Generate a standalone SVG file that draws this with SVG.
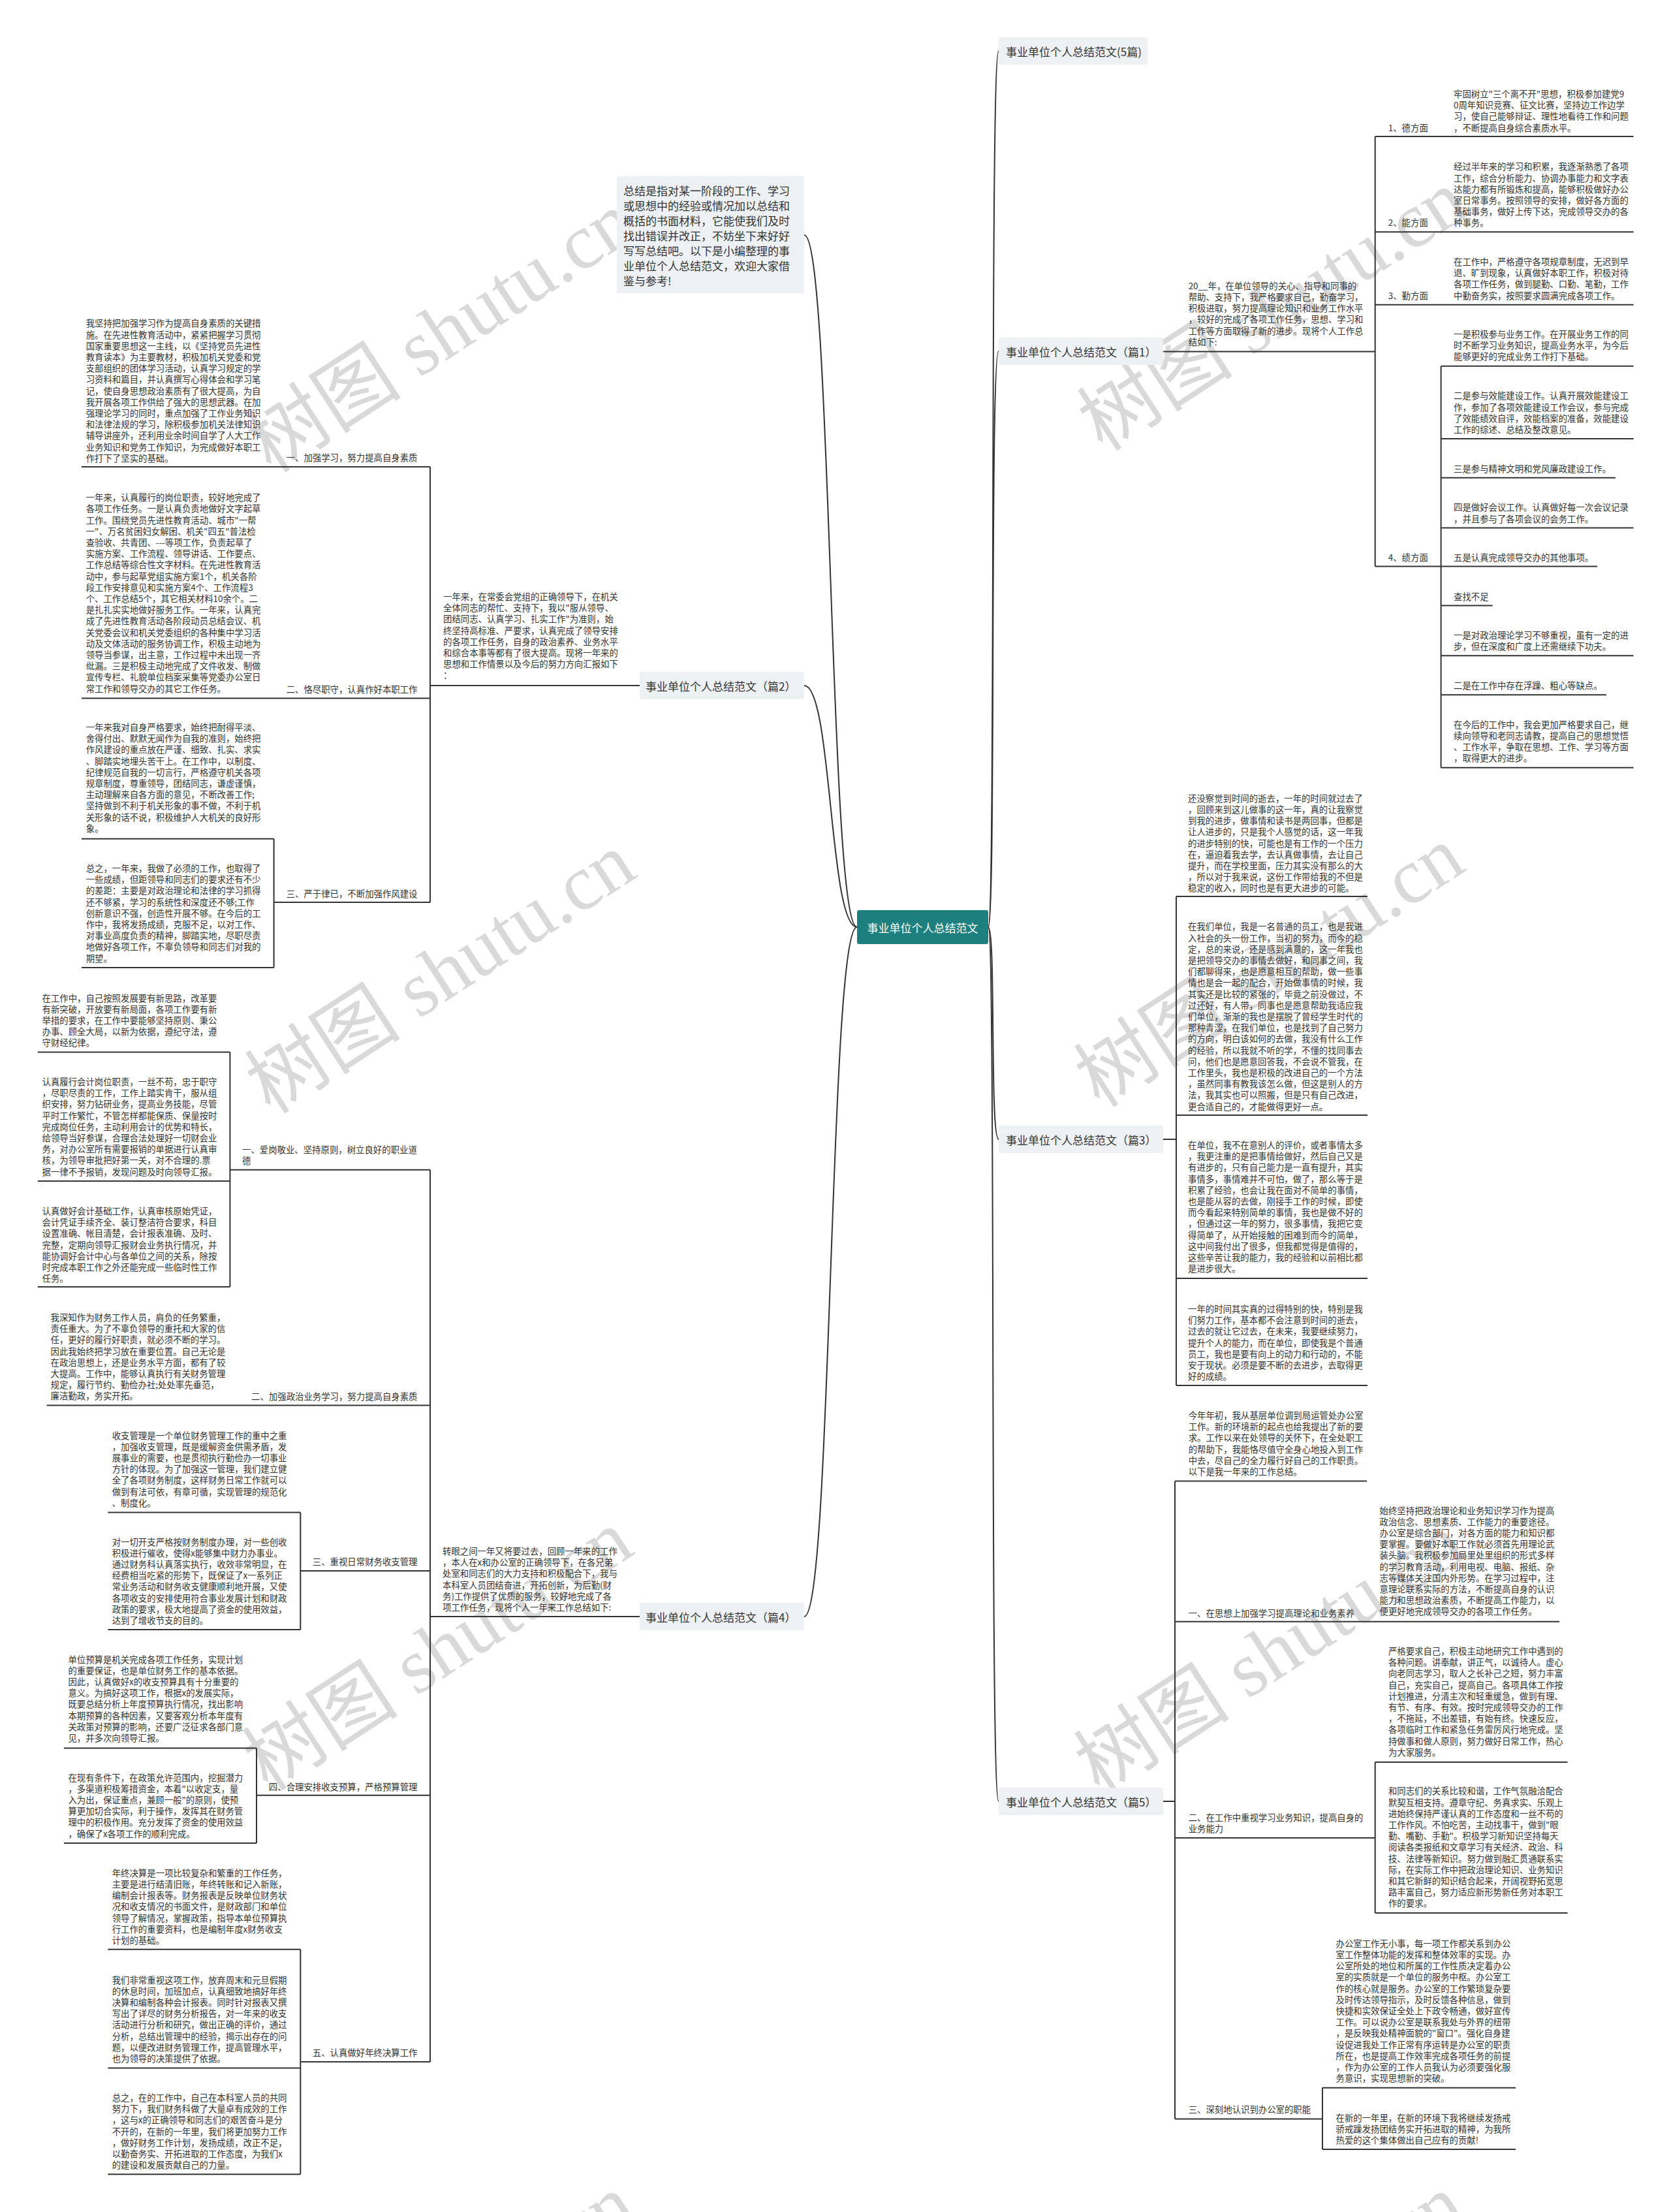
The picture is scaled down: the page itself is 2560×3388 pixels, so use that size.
<svg xmlns="http://www.w3.org/2000/svg" width="2560" height="3388" viewBox="0 0 2560 3388">
<style>
.t{font-family:"Noto Sans CJK SC","Noto Sans",sans-serif;font-size:13.4px;fill:#333;dominant-baseline:central}
.l1{font-family:"Noto Sans CJK SC","Noto Sans",sans-serif;font-size:17px;fill:#333;dominant-baseline:central}
.ln{fill:none;stroke:#333;stroke-width:2}
.box{fill:#edf1f4}
.wm{font-family:"Liberation Serif","Noto Sans CJK SC",serif;font-size:120px;fill:#d9d9d9;text-anchor:middle}
</style>
<rect width="2560" height="3388" fill="#fff"/>
<g id="watermarks">
<text class="wm" transform="translate(698,543) rotate(-33)">树图 shutu.cn</text>
<text class="wm" transform="translate(1972,510) rotate(-33)">树图 shutu.cn</text>
<text class="wm" transform="translate(697,1525) rotate(-33)">树图 shutu.cn</text>
<text class="wm" transform="translate(1967,1515) rotate(-33)">树图 shutu.cn</text>
<text class="wm" transform="translate(693,2562) rotate(-33)">树图 shutu.cn</text>
<text class="wm" transform="translate(1967,2567) rotate(-33)">树图 shutu.cn</text>
<text class="wm" transform="translate(697,3580) rotate(-33)">树图 shutu.cn</text>
<text class="wm" transform="translate(1967,3580) rotate(-33)">树图 shutu.cn</text>
</g>
<g id="connectors">
<path class="ln" d="M1313,1420 C1270,1420 1275,360 1232,360"/>
<path class="ln" d="M1313,1420 C1270,1420 1275,1050 1232,1050"/>
<path class="ln" d="M1313,1420 C1270,1420 1275,2476 1232,2476"/>
<path class="ln" d="M1514,1420 C1526,1420 1516,78 1530,78"/>
<path class="ln" d="M1514,1420 C1526,1420 1516,538 1530,538"/>
<path class="ln" d="M1514,1420 C1526,1420 1516,1745 1530,1745"/>
<path class="ln" d="M1514,1420 C1526,1420 1516,2759 1530,2759"/>
<path class="ln" d="M660,1050 H980 M659,714.9 V1382 M125,714.9 H659 M125,1069.4 H659 M419.6,1382 H659 M125,1284.7 H419.6 M125,1482 H419.6 M419.6,1284.7 V1482"/>
<path class="ln" d="M660,2476 H980 M659,1791.7 V3158 M352.4,1791.7 H659 M57.8,1611.6 H352.4 M57.8,1809 H352.4 M57.8,1971 H352.4 M352.4,1611.6 V1971 M71.6,2152.6 H659 M460.3,2406 H659 M165.3,2316.5 H460.3 M165.3,2496 H460.3 M460.3,2316.5 V2496 M393,2749.8 H659 M98,2677.6 H393 M98,2823 H393 M393,2677.6 V2823 M460.3,3158 H659 M165.3,2985.7 H460.3 M165.3,3167.4 H460.3 M165.3,3330.2 H460.3 M460.3,2985.7 V3330.2"/>
<path class="ln" d="M1782,538.5 H2106.7 M2106.7,209 V867.5 M2106.7,209 H2502.6 M2106.7,355.3 H2502.6 M2106.7,466.7 H2502.6 M2106.7,867.5 H2207.6 M2207.6,560.7 V1175.7 M2207.6,560.7 H2502.6 M2207.6,672 H2502.6 M2207.6,731.8 H2475 M2207.6,808.6 H2502.6 M2207.6,867.5 H2447 M2207.6,927.4 H2286.7 M2207.6,1004.3 H2502.6 M2207.6,1064.3 H2461 M2207.6,1175.7 H2502.6"/>
<path class="ln" d="M1782,1745 H1802 M1802,1373 V2122 M1802,1373 H2095 M1802,1708 H2095 M1802,1958 H2095 M1802,2122 H2095"/>
<path class="ln" d="M1782,2759 H1800 M1800,2268.6 V3245.6 M1800,2268.6 H2094 M1800,2483.7 H2389 M1800,2815 H2106.7 M2106.7,2699 V2930 M2106.7,2699 H2401.5 M2106.7,2930 H2401.5 M1800,3245.6 H2026 M2026,3197.8 V3292 M2026,3197.8 H2322 M2026,3292 H2322"/>
</g>
<g id="root">
<rect x="1313" y="1394" width="201" height="52" rx="3" fill="#1d7f7e"/>
<text class="l1" x="1413.5" y="1420" text-anchor="middle" style="fill:#fff">事业单位个人总结范文</text>
</g>
<g id="intro">
<rect class="box" x="945" y="270" width="287" height="179" rx="2"/>
<text class="l1"><tspan x="955" y="291">总结是指对某一阶段的工作、学习</tspan><tspan x="955" y="314">或思想中的经验或情况加以总结和</tspan><tspan x="955" y="337">概括的书面材料，它能使我们及时</tspan><tspan x="955" y="360">找出错误并改正，不妨坐下来好好</tspan><tspan x="955" y="383">写写总结吧。以下是小编整理的事</tspan><tspan x="955" y="406">业单位个人总结范文，欢迎大家借</tspan><tspan x="955" y="429">鉴与参考!</tspan></text>
</g>
<g id="n-5pian">
<rect class="box" x="1530" y="57" width="228" height="42" rx="2"/>
<text class="l1" x="1541" y="78">事业单位个人总结范文(5篇)</text>
</g>
<g id="n-pian1">
<rect class="box" x="1530" y="517" width="252" height="42" rx="2"/>
<text class="l1" x="1541" y="538">事业单位个人总结范文（篇1）</text>
</g>
<g id="n-pian2">
<rect class="box" x="980" y="1029" width="252" height="42" rx="2"/>
<text class="l1" x="989" y="1050">事业单位个人总结范文（篇2）</text>
</g>
<g id="n-pian3">
<rect class="box" x="1530" y="1724" width="252" height="42" rx="2"/>
<text class="l1" x="1541" y="1745">事业单位个人总结范文（篇3）</text>
</g>
<g id="n-pian4">
<rect class="box" x="980" y="2455" width="252" height="42" rx="2"/>
<text class="l1" x="989" y="2476">事业单位个人总结范文（篇4）</text>
</g>
<g id="n-pian5">
<rect class="box" x="1530" y="2738" width="252" height="42" rx="2"/>
<text class="l1" x="1541" y="2759">事业单位个人总结范文（篇5）</text>
</g>
<g id="p2-intro"><text class="t"><tspan x="679" y="913">一年来，在常委会党组的正确领导下，在机关</tspan><tspan x="679" y="930.2">全体同志的帮忙、支持下，我以"服从领导、</tspan><tspan x="679" y="947.4">团结同志、认真学习、扎实工作"为准则，始</tspan><tspan x="679" y="964.6">终坚持高标准、严要求，认真完成了领导安排</tspan><tspan x="679" y="981.8">的各项工作任务，自身的政治素养、业务水平</tspan><tspan x="679" y="999">和综合本事等都有了很大提高。现将一年来的</tspan><tspan x="679" y="1016.2">思想和工作情景以及今后的努力方向汇报如下</tspan><tspan x="679" y="1033.4">：</tspan></text></g>
<g id="p2-l1"><text class="t" x="639.5" y="699.7" text-anchor="end">一、加强学习，努力提高自身素质</text></g>
<g id="p2-l2"><text class="t" x="639.5" y="1054.7" text-anchor="end">二、恪尽职守，认真作好本职工作</text></g>
<g id="p2-l3"><text class="t" x="639.5" y="1368.3" text-anchor="end">三、严于律已，不断加强作风建设</text></g>
<g id="p2-a"><text class="t"><tspan x="131.7" y="494.4">我坚持把加强学习作为提高自身素质的关键措</tspan><tspan x="131.7" y="511.6">施。在先进性教育活动中，紧紧把握学习贯彻</tspan><tspan x="131.7" y="528.8">国家重要思想这一主线，以《坚持党员先进性</tspan><tspan x="131.7" y="546">教育读本》为主要教材，积极加机关党委和党</tspan><tspan x="131.7" y="563.2">支部组织的团体学习活动，认真学习规定的学</tspan><tspan x="131.7" y="580.4">习资料和篇目，并认真撰写心得体会和学习笔</tspan><tspan x="131.7" y="597.6">记，使自身思想政治素质有了很大提高，为自</tspan><tspan x="131.7" y="614.8">我开展各项工作供给了强大的思想武器。在加</tspan><tspan x="131.7" y="632">强理论学习的同时，重点加强了工作业务知识</tspan><tspan x="131.7" y="649.2">和法律法规的学习，除积极参加机关法律知识</tspan><tspan x="131.7" y="666.4">辅导讲座外，还利用业余时间自学了人大工作</tspan><tspan x="131.7" y="683.6">业务知识和党务工作知识，为完成做好本职工</tspan><tspan x="131.7" y="700.8">作打下了坚实的基础。</tspan></text></g>
<g id="p2-b"><text class="t"><tspan x="131.7" y="761.2">一年来，认真履行的岗位职责，较好地完成了</tspan><tspan x="131.7" y="778.4">各项工作任务。一是认真负责地做好文字起草</tspan><tspan x="131.7" y="795.6">工作。围绕党员先进性教育活动、城市"一帮</tspan><tspan x="131.7" y="812.8">一"、万名贫困妇女解困、机关"四五"普法检</tspan><tspan x="131.7" y="830">查验收、共青团、---等项工作，负责起草了</tspan><tspan x="131.7" y="847.2">实施方案、工作流程、领导讲话、工作要点、</tspan><tspan x="131.7" y="864.4">工作总结等综合性文字材料。在先进性教育活</tspan><tspan x="131.7" y="881.6">动中，参与起草党组实施方案1个，机关各阶</tspan><tspan x="131.7" y="898.8">段工作安排意见和实施方案4个、工作流程3</tspan><tspan x="131.7" y="916">个、工作总结5个，其它相关材料10余个。二</tspan><tspan x="131.7" y="933.2">是扎扎实实地做好服务工作。一年来，认真完</tspan><tspan x="131.7" y="950.4">成了先进性教育活动各阶段动员总结会议、机</tspan><tspan x="131.7" y="967.6">关党委会议和机关党委组织的各种集中学习活</tspan><tspan x="131.7" y="984.8">动及文体活动的服务协调工作，积极主动地为</tspan><tspan x="131.7" y="1002">领导当参谋，出主意，工作过程中未出现一齐</tspan><tspan x="131.7" y="1019.2">纰漏。三是积极主动地完成了文件收发、制做</tspan><tspan x="131.7" y="1036.4">宣传专栏、礼貌单位档案采集等党委办公室日</tspan><tspan x="131.7" y="1053.6">常工作和领导交办的其它工作任务。</tspan></text></g>
<g id="p2-c"><text class="t"><tspan x="131.7" y="1113">一年来我对自身严格要求，始终把耐得平淡、</tspan><tspan x="131.7" y="1130.2">舍得付出、默默无闻作为自我的准则，始终把</tspan><tspan x="131.7" y="1147.4">作风建设的重点放在严谨、细致、扎实、求实</tspan><tspan x="131.7" y="1164.6">、脚踏实地埋头苦干上。在工作中，以制度、</tspan><tspan x="131.7" y="1181.8">纪律规范自我的一切言行，严格遵守机关各项</tspan><tspan x="131.7" y="1199">规章制度，尊重领导，团结同志，谦虚谨慎，</tspan><tspan x="131.7" y="1216.2">主动理解来自各方面的意见，不断改善工作;</tspan><tspan x="131.7" y="1233.4">坚持做到不利于机关形象的事不做，不利于机</tspan><tspan x="131.7" y="1250.6">关形象的话不说，积极维护人大机关的良好形</tspan><tspan x="131.7" y="1267.8">象。</tspan></text></g>
<g id="p2-d"><text class="t"><tspan x="131.7" y="1329">总之，一年来，我做了必须的工作，也取得了</tspan><tspan x="131.7" y="1346.2">一些成绩，但距领导和同志们的要求还有不少</tspan><tspan x="131.7" y="1363.4">的差距：主要是对政治理论和法律的学习抓得</tspan><tspan x="131.7" y="1380.6">还不够紧，学习的系统性和深度还不够;工作</tspan><tspan x="131.7" y="1397.8">创新意识不强，创造性开展不够。在今后的工</tspan><tspan x="131.7" y="1415">作中，我将发扬成绩，克服不足，以对工作、</tspan><tspan x="131.7" y="1432.2">对事业高度负责的精神，脚踏实地，尽职尽责</tspan><tspan x="131.7" y="1449.4">地做好各项工作，不辜负领导和同志们对我的</tspan><tspan x="131.7" y="1466.6">期望。</tspan></text></g>
<g id="p4-intro"><text class="t"><tspan x="678" y="2375">转眼之间一年又将要过去，回顾一年来的工作</tspan><tspan x="678" y="2392.2">，本人在x和办公室的正确领导下，在各兄弟</tspan><tspan x="678" y="2409.4">处室和同志们的大力支持和积极配合下，我与</tspan><tspan x="678" y="2426.6">本科室人员团结奋进，开拓创新，为后勤(财</tspan><tspan x="678" y="2443.8">务)工作提供了优质的服务，较好地完成了各</tspan><tspan x="678" y="2461">项工作任务，现将个人一年来工作总结如下:</tspan></text></g>
<g id="p4-l1"><text class="t"><tspan x="371" y="1759.5">一、爱岗敬业、坚持原则，树立良好的职业道</tspan><tspan x="371" y="1776.7">德</tspan></text></g>
<g id="p4-l2"><text class="t" x="639.5" y="2137.9" text-anchor="end">二、加强政治业务学习，努力提高自身素质</text></g>
<g id="p4-l3"><text class="t" x="639.5" y="2391" text-anchor="end">三、重视日常财务收支管理</text></g>
<g id="p4-l4"><text class="t" x="639.5" y="2735.6" text-anchor="end">四、合理安排收支预算，严格预算管理</text></g>
<g id="p4-l5"><text class="t" x="639.5" y="3142.9" text-anchor="end">五、认真做好年终决算工作</text></g>
<g id="p4-e"><text class="t"><tspan x="64.5" y="1527.6">在工作中，自己按照发展要有新思路，改革要</tspan><tspan x="64.5" y="1544.8">有新突破，开放要有新局面，各项工作要有新</tspan><tspan x="64.5" y="1562">举措的要求，在工作中要能够坚持原则、秉公</tspan><tspan x="64.5" y="1579.2">办事、顾全大局，以新为依据，遵纪守法，遵</tspan><tspan x="64.5" y="1596.4">守财经纪律。</tspan></text></g>
<g id="p4-f"><text class="t"><tspan x="64.5" y="1656">认真履行会计岗位职责，一丝不苟，忠于职守</tspan><tspan x="64.5" y="1673.2">，尽职尽责的工作，工作上踏实肯干，服从组</tspan><tspan x="64.5" y="1690.4">织安排，努力钻研业务，提高业务技能，尽管</tspan><tspan x="64.5" y="1707.6">平时工作繁忙，不管怎样都能保质、保量按时</tspan><tspan x="64.5" y="1724.8">完成岗位任务，主动利用会计的优势和特长，</tspan><tspan x="64.5" y="1742">给领导当好参谋，合理合法处理好一切财会业</tspan><tspan x="64.5" y="1759.2">务，对办公室所有需要报销的单据进行认真审</tspan><tspan x="64.5" y="1776.4">核，为领导审批把好第一关，对不合理的.票</tspan><tspan x="64.5" y="1793.6">据一律不予报销，发现问题及时向领导汇报。</tspan></text></g>
<g id="p4-g"><text class="t"><tspan x="64.5" y="1854">认真做好会计基础工作，认真审核原始凭证，</tspan><tspan x="64.5" y="1871.2">会计凭证手续齐全、装订整洁符合要求，科目</tspan><tspan x="64.5" y="1888.4">设置准确、帐目清楚，会计报表准确、及时、</tspan><tspan x="64.5" y="1905.6">完整，定期向领导汇报财会业务执行情况，并</tspan><tspan x="64.5" y="1922.8">能协调好会计中心与各单位之间的关系，除按</tspan><tspan x="64.5" y="1940">时完成本职工作之外还能完成一些临时性工作</tspan><tspan x="64.5" y="1957.2">任务。</tspan></text></g>
<g id="p4-h"><text class="t"><tspan x="77.6" y="2017">我深知作为财务工作人员，肩负的任务繁重，</tspan><tspan x="77.6" y="2034.2">责任重大。为了不辜负领导的重托和大家的信</tspan><tspan x="77.6" y="2051.4">任，更好的履行好职责，就必须不断的学习。</tspan><tspan x="77.6" y="2068.6">因此我始终把学习放在重要位置。自己无论是</tspan><tspan x="77.6" y="2085.8">在政治思想上，还是业务水平方面，都有了较</tspan><tspan x="77.6" y="2103">大提高。工作中，能够认真执行有关财务管理</tspan><tspan x="77.6" y="2120.2">规定，履行节约、勤俭办社;处处率先垂范，</tspan><tspan x="77.6" y="2137.4">廉洁勤政，务实开拓。</tspan></text></g>
<g id="p4-i"><text class="t"><tspan x="171.7" y="2197.6">收支管理是一个单位财务管理工作的重中之重</tspan><tspan x="171.7" y="2214.8">，加强收支管理，既是缓解资金供需矛盾，发</tspan><tspan x="171.7" y="2232">展事业的需要，也是贯彻执行勤俭办一切事业</tspan><tspan x="171.7" y="2249.2">方针的体现。为了加强这一管理，我们建立健</tspan><tspan x="171.7" y="2266.4">全了各项财务制度，这样财务日常工作就可以</tspan><tspan x="171.7" y="2283.6">做到有法可依，有章可循，实现管理的规范化</tspan><tspan x="171.7" y="2300.8">、制度化。</tspan></text></g>
<g id="p4-j"><text class="t"><tspan x="171.7" y="2360.6">对一切开支严格按财务制度办理，对一些创收</tspan><tspan x="171.7" y="2377.8">积极进行催收，使得x能够集中财力办事业。</tspan><tspan x="171.7" y="2395">通过财务科认真落实执行，收效非常明显，在</tspan><tspan x="171.7" y="2412.2">经费相当吃紧的形势下，既保证了x一系列正</tspan><tspan x="171.7" y="2429.4">常业务活动和财务收支健康顺利地开展，又使</tspan><tspan x="171.7" y="2446.6">各项收支的安排使用符合事业发展计划和财政</tspan><tspan x="171.7" y="2463.8">政策的要求，极大地提高了资金的使用效益，</tspan><tspan x="171.7" y="2481">达到了增收节支的目的。</tspan></text></g>
<g id="p4-k"><text class="t"><tspan x="104.4" y="2540.6">单位预算是机关完成各项工作任务，实现计划</tspan><tspan x="104.4" y="2557.8">的重要保证，也是单位财务工作的基本依据。</tspan><tspan x="104.4" y="2575">因此，认真做好x的收支预算具有十分重要的</tspan><tspan x="104.4" y="2592.2">意义。为搞好这项工作，根据x的发展实际，</tspan><tspan x="104.4" y="2609.4">既要总结分析上年度预算执行情况，找出影响</tspan><tspan x="104.4" y="2626.6">本期预算的各种因素，又要客观分析本年度有</tspan><tspan x="104.4" y="2643.8">关政策对预算的影响，还要广泛征求各部门意</tspan><tspan x="104.4" y="2661">见，并多次向领导汇报。</tspan></text></g>
<g id="p4-l"><text class="t"><tspan x="104.4" y="2721.5">在现有条件下，在政策允许范围内，挖掘潜力</tspan><tspan x="104.4" y="2738.7">，多渠道积极筹措资金，本着"以收定支，量</tspan><tspan x="104.4" y="2755.9">入为出，保证重点，兼顾一般"的原则，使预</tspan><tspan x="104.4" y="2773.1">算更加切合实际，利于操作，发挥其在财务管</tspan><tspan x="104.4" y="2790.3">理中的积极作用。充分发挥了资金的使用效益</tspan><tspan x="104.4" y="2807.5">，确保了x各项工作的顺利完成。</tspan></text></g>
<g id="p4-m"><text class="t"><tspan x="171.7" y="2867.7">年终决算是一项比较复杂和繁重的工作任务，</tspan><tspan x="171.7" y="2884.9">主要是进行结清旧账，年终转账和记入新账，</tspan><tspan x="171.7" y="2902.1">编制会计报表等。财务报表是反映单位财务状</tspan><tspan x="171.7" y="2919.3">况和收支情况的书面文件，是财政部门和单位</tspan><tspan x="171.7" y="2936.5">领导了解情况，掌握政策，指导本单位预算执</tspan><tspan x="171.7" y="2953.7">行工作的重要资料，也是编制年度x财务收支</tspan><tspan x="171.7" y="2970.9">计划的基础。</tspan></text></g>
<g id="p4-n"><text class="t"><tspan x="171.7" y="3031.5">我们非常重视这项工作，放弃周末和元旦假期</tspan><tspan x="171.7" y="3048.7">的休息时间，加班加点，认真细致地搞好年终</tspan><tspan x="171.7" y="3065.9">决算和编制各种会计报表。同时针对报表又撰</tspan><tspan x="171.7" y="3083.1">写出了详尽的财务分析报告，对一年来的收支</tspan><tspan x="171.7" y="3100.3">活动进行分析和研究，做出正确的评价，通过</tspan><tspan x="171.7" y="3117.5">分析，总结出管理中的经验，揭示出存在的问</tspan><tspan x="171.7" y="3134.7">题，以便改进财务管理工作，提高管理水平，</tspan><tspan x="171.7" y="3151.9">也为领导的决策提供了依据。</tspan></text></g>
<g id="p4-o"><text class="t"><tspan x="171.7" y="3212">总之，在的工作中，自己在本科室人员的共同</tspan><tspan x="171.7" y="3229.2">努力下，我们财务科做了大量卓有成效的工作</tspan><tspan x="171.7" y="3246.4">，这与x的正确领导和同志们的艰苦奋斗是分</tspan><tspan x="171.7" y="3263.6">不开的，在新的一年里，我们将更加努力工作</tspan><tspan x="171.7" y="3280.8">，做好财务工作计划，发扬成绩，改正不足，</tspan><tspan x="171.7" y="3298">以勤奋务实、开拓进取的工作态度，为我们x</tspan><tspan x="171.7" y="3315.2">的建设和发展贡献自己的力量。</tspan></text></g>
<g id="p1-intro"><text class="t"><tspan x="1820.7" y="436.8">20__年，在单位领导的关心、指导和同事的</tspan><tspan x="1820.7" y="454">帮助、支持下，我严格要求自己，勤奋学习，</tspan><tspan x="1820.7" y="471.2">积极进取，努力提高理论知识和业务工作水平</tspan><tspan x="1820.7" y="488.4">，较好的完成了各项工作任务，思想、学习和</tspan><tspan x="1820.7" y="505.6">工作等方面取得了新的进步。现将个人工作总</tspan><tspan x="1820.7" y="522.8">结如下:</tspan></text></g>
<g id="p1-de"><text class="t" x="2126.8" y="194.6">1、德方面</text><text class="t"><tspan x="2227" y="142.9">牢固树立"三个离不开"思想，积极参加建党9</tspan><tspan x="2227" y="160.1">0周年知识竞赛、征文比赛，坚持边工作边学</tspan><tspan x="2227" y="177.3">习，使自己能够辩证、理性地看待工作和问题</tspan><tspan x="2227" y="194.5">，不断提高自身综合素质水平。</tspan></text></g>
<g id="p1-neng"><text class="t" x="2126.8" y="340">2、能方面</text><text class="t"><tspan x="2227" y="254.3">经过半年来的学习和积累，我逐渐熟悉了各项</tspan><tspan x="2227" y="271.5">工作，综合分析能力、协调办事能力和文字表</tspan><tspan x="2227" y="288.7">达能力都有所锻炼和提高，能够积极做好办公</tspan><tspan x="2227" y="305.9">室日常事务。按照领导的安排，做好各方面的</tspan><tspan x="2227" y="323.1">基础事务，做好上传下达，完成领导交办的各</tspan><tspan x="2227" y="340.3">种事务。</tspan></text></g>
<g id="p1-qin"><text class="t" x="2126.8" y="451.7">3、勤方面</text><text class="t"><tspan x="2227" y="400">在工作中，严格遵守各项规章制度，无迟到早</tspan><tspan x="2227" y="417.2">退、旷到现象，认真做好本职工作，积极对待</tspan><tspan x="2227" y="434.4">各项工作任务，做到腿勤、口勤、笔勤，工作</tspan><tspan x="2227" y="451.6">中勤奋务实，按照要求圆满完成各项工作。</tspan></text></g>
<g id="p1-ji"><text class="t" x="2126.8" y="853">4、绩方面</text></g>
<g id="p1-ji-1"><text class="t"><tspan x="2227" y="510.7">一是积极参与业务工作。在开展业务工作的同</tspan><tspan x="2227" y="527.9">时不断学习业务知识，提高业务水平，为今后</tspan><tspan x="2227" y="545.1">能够更好的完成业务工作打下基础。</tspan></text></g>
<g id="p1-ji-2"><text class="t"><tspan x="2227" y="605.3">二是参与效能建设工作。认真开展效能建设工</tspan><tspan x="2227" y="622.5">作，参加了各项效能建设工作会议，参与完成</tspan><tspan x="2227" y="639.7">了效能绩效自评，效能档案的准备，效能建设</tspan><tspan x="2227" y="656.9">工作的综述、总结及整改意见。</tspan></text></g>
<g id="p1-ji-3"><text class="t" x="2227" y="716.8">三是参与精神文明和党风廉政建设工作。</text></g>
<g id="p1-ji-4"><text class="t"><tspan x="2227" y="776.4">四是做好会议工作。认真做好每一次会议记录</tspan><tspan x="2227" y="793.6">，并且参与了各项会议的会务工作。</tspan></text></g>
<g id="p1-ji-5"><text class="t" x="2227" y="853">五是认真完成领导交办的其他事项。</text></g>
<g id="p1-ji-6"><text class="t" x="2227" y="912.5">查找不足</text></g>
<g id="p1-ji-7"><text class="t"><tspan x="2227" y="972">一是对政治理论学习不够重视，虽有一定的进</tspan><tspan x="2227" y="989.2">步，但在深度和广度上还需继续下功夫。</tspan></text></g>
<g id="p1-ji-8"><text class="t" x="2227" y="1049">二是在工作中存在浮躁、粗心等缺点。</text></g>
<g id="p1-ji-9"><text class="t"><tspan x="2227" y="1108.5">在今后的工作中，我会更加严格要求自己，继</tspan><tspan x="2227" y="1125.7">续向领导和老同志请教，提高自己的思想觉悟</tspan><tspan x="2227" y="1142.9">、工作水平，争取在思想、工作、学习等方面</tspan><tspan x="2227" y="1160.1">，取得更大的进步。</tspan></text></g>
<g id="p3-a"><text class="t"><tspan x="1820" y="1221.7">还没察觉到时间的逝去，一年的时间就过去了</tspan><tspan x="1820" y="1238.9">，回顾来到这儿做事的这一年，真的让我察觉</tspan><tspan x="1820" y="1256.1">到我的进步，做事情和读书是两回事，但都是</tspan><tspan x="1820" y="1273.3">让人进步的，只是我个人感觉的话，这一年我</tspan><tspan x="1820" y="1290.5">的进步特别的快，可能也是有工作的一个压力</tspan><tspan x="1820" y="1307.7">在，逼迫着我去学，去认真做事情，去让自己</tspan><tspan x="1820" y="1324.9">提升，而在学校里面，压力其实没有那么的大</tspan><tspan x="1820" y="1342.1">，所以对于我来说，这份工作带给我的不但是</tspan><tspan x="1820" y="1359.3">稳定的收入，同时也是有更大进步的可能。</tspan></text></g>
<g id="p3-b"><text class="t"><tspan x="1820" y="1418.3">在我们单位，我是一名普通的员工，也是我进</tspan><tspan x="1820" y="1435.5">入社会的头一份工作，当初的努力，而今的稳</tspan><tspan x="1820" y="1452.7">定，总的来说，还是感到满意的，这一年我也</tspan><tspan x="1820" y="1469.9">是把领导交办的事情去做好，和同事之间，我</tspan><tspan x="1820" y="1487.1">们都聊得来，也是愿意相互的帮助，做一些事</tspan><tspan x="1820" y="1504.3">情也是会一起的配合，开始做事情的时候，我</tspan><tspan x="1820" y="1521.5">其实还是比较的紧张的，毕竟之前没做过，不</tspan><tspan x="1820" y="1538.7">过还好，有人带，同事也是愿意帮助我适应我</tspan><tspan x="1820" y="1555.9">们单位，渐渐的我也是摆脱了曾经学生时代的</tspan><tspan x="1820" y="1573.1">那种青涩，在我们单位，也是找到了自己努力</tspan><tspan x="1820" y="1590.3">的方向，明白该如何的去做，我没有什么工作</tspan><tspan x="1820" y="1607.5">的经验，所以我就不听的学，不懂的找同事去</tspan><tspan x="1820" y="1624.7">问，他们也是愿意回答我，不会说不管我，在</tspan><tspan x="1820" y="1641.9">工作里头，我也是积极的改进自己的一个方法</tspan><tspan x="1820" y="1659.1">，虽然同事有教我该怎么做，但这是别人的方</tspan><tspan x="1820" y="1676.3">法，我其实也可以照搬，但是只有自己改进，</tspan><tspan x="1820" y="1693.5">更合适自己的，才能做得更好一点。</tspan></text></g>
<g id="p3-c"><text class="t"><tspan x="1820" y="1753">在单位，我不在意别人的评价，或者事情太多</tspan><tspan x="1820" y="1770.2">，我更注重的是把事情给做好，然后自己又是</tspan><tspan x="1820" y="1787.4">有进步的，只有自己能力是一直有提升，其实</tspan><tspan x="1820" y="1804.6">事情多，事情难并不可怕，做了，那么等于是</tspan><tspan x="1820" y="1821.8">积累了经验，也会让我在面对不简单的事情，</tspan><tspan x="1820" y="1839">也是能从容的去做，刚接手工作的时候，即使</tspan><tspan x="1820" y="1856.2">而今看起来特别简单的事情，我也是做不好的</tspan><tspan x="1820" y="1873.4">，但通过这一年的努力，很多事情，我把它变</tspan><tspan x="1820" y="1890.6">得简单了，从开始接触的困难到而今的简单，</tspan><tspan x="1820" y="1907.8">这中间我付出了很多，但我都觉得是值得的，</tspan><tspan x="1820" y="1925">这些辛苦让我的能力，我的经验和以前相比都</tspan><tspan x="1820" y="1942.2">是进步很大。</tspan></text></g>
<g id="p3-d"><text class="t"><tspan x="1820" y="2004">一年的时间其实真的过得特别的快，特别是我</tspan><tspan x="1820" y="2021.2">们努力工作，基本都不会注意到时间的逝去，</tspan><tspan x="1820" y="2038.4">过去的就让它过去，在未来，我要继续努力，</tspan><tspan x="1820" y="2055.6">提升个人的能力，而在单位，即使我是个普通</tspan><tspan x="1820" y="2072.8">员工，我也是要有向上的动力和行动的，不能</tspan><tspan x="1820" y="2090">安于现状。必须是要不断的去进步，去取得更</tspan><tspan x="1820" y="2107.2">好的成绩。</tspan></text></g>
<g id="p5-intro"><text class="t"><tspan x="1820.7" y="2167">今年年初，我从基层单位调到局运管处办公室</tspan><tspan x="1820.7" y="2184.2">工作。新的环境新的起点也给我提出了新的要</tspan><tspan x="1820.7" y="2201.4">求。工作以来在处领导的关怀下，在全处职工</tspan><tspan x="1820.7" y="2218.6">的帮助下，我能恪尽值守全身心地投入到工作</tspan><tspan x="1820.7" y="2235.8">中去，尽自己的全力履行好自己的工作职责。</tspan><tspan x="1820.7" y="2253">以下是我一年来的工作总结。</tspan></text></g>
<g id="p5-l1"><text class="t" x="1820.7" y="2469.5">一、在思想上加强学习提高理论和业务素养</text></g>
<g id="p5-t"><text class="t"><tspan x="2113.6" y="2312.6">始终坚持把政治理论和业务知识学习作为提高</tspan><tspan x="2113.6" y="2329.8">政治信念、思想素质、工作能力的重要途径。</tspan><tspan x="2113.6" y="2347">办公室是综合部门，对各方面的能力和知识都</tspan><tspan x="2113.6" y="2364.2">要掌握。要做好本职工作就必须首先用理论武</tspan><tspan x="2113.6" y="2381.4">装头脑。我积极参加局里处里组织的形式多样</tspan><tspan x="2113.6" y="2398.6">的学习教育活动，利用电视、电脑、报纸、杂</tspan><tspan x="2113.6" y="2415.8">志等媒体关注国内外形势。在学习过程中，注</tspan><tspan x="2113.6" y="2433">意理论联系实际的方法，不断提高自身的认识</tspan><tspan x="2113.6" y="2450.2">能力和思想政治素质，不断提高工作能力，以</tspan><tspan x="2113.6" y="2467.4">便更好地完成领导交办的各项工作任务。</tspan></text></g>
<g id="p5-l2"><text class="t"><tspan x="1820.7" y="2782.5">二、在工作中重视学习业务知识，提高自身的</tspan><tspan x="1820.7" y="2799.7">业务能力</tspan></text></g>
<g id="p5-u"><text class="t"><tspan x="2126.9" y="2528">严格要求自己，积极主动地研究工作中遇到的</tspan><tspan x="2126.9" y="2545.2">各种问题。讲奉献，讲正气，以诚待人。虚心</tspan><tspan x="2126.9" y="2562.4">向老同志学习，取人之长补己之短，努力丰富</tspan><tspan x="2126.9" y="2579.6">自己，充实自己，提高自己。各项具体工作按</tspan><tspan x="2126.9" y="2596.8">计划推进，分清主次和轻重缓急，做到有理、</tspan><tspan x="2126.9" y="2614">有节、有序、有效。按时完成领导交办的工作</tspan><tspan x="2126.9" y="2631.2">，不拖延，不出差错，有始有终。快速反应，</tspan><tspan x="2126.9" y="2648.4">各项临时工作和紧急任务雷厉风行地完成。坚</tspan><tspan x="2126.9" y="2665.6">持做事和做人原则，努力做好日常工作，热心</tspan><tspan x="2126.9" y="2682.8">为大家服务。</tspan></text></g>
<g id="p5-v"><text class="t"><tspan x="2126.9" y="2742.4">和同志们的关系比较和谐，工作气氛融洽配合</tspan><tspan x="2126.9" y="2759.6">默契互相支持。遵章守纪、务真求实、乐观上</tspan><tspan x="2126.9" y="2776.8">进始终保持严谨认真的工作态度和一丝不苟的</tspan><tspan x="2126.9" y="2794">工作作风。不怕吃苦，主动找事干，做到"眼</tspan><tspan x="2126.9" y="2811.2">勤、嘴勤、手勤"。积极学习新知识坚持每天</tspan><tspan x="2126.9" y="2828.4">阅读各类报纸和文章学习有关经济、政治、科</tspan><tspan x="2126.9" y="2845.6">技、法律等新知识。努力做到融汇贯通联系实</tspan><tspan x="2126.9" y="2862.8">际，在实际工作中把政治理论知识、业务知识</tspan><tspan x="2126.9" y="2880">和其它新鲜的知识结合起来，开阔视野拓宽思</tspan><tspan x="2126.9" y="2897.2">路丰富自己，努力适应新形势新任务对本职工</tspan><tspan x="2126.9" y="2914.4">作的要求。</tspan></text></g>
<g id="p5-l3"><text class="t" x="1820.7" y="3230">三、深刻地认识到办公室的职能</text></g>
<g id="p5-w"><text class="t"><tspan x="2046.5" y="2975.8">办公室工作无小事，每一项工作都关系到办公</tspan><tspan x="2046.5" y="2993">室工作整体功能的发挥和整体效率的实现。办</tspan><tspan x="2046.5" y="3010.2">公室所处的地位和所属的工作性质决定着办公</tspan><tspan x="2046.5" y="3027.4">室的实质就是一个单位的服务中枢。办公室工</tspan><tspan x="2046.5" y="3044.6">作的核心就是服务。办公室的工作繁琐复杂要</tspan><tspan x="2046.5" y="3061.8">及时传达领导指示，及时反馈各种信息，做到</tspan><tspan x="2046.5" y="3079">快捷和实效保证全处上下政令畅通，做好宣传</tspan><tspan x="2046.5" y="3096.2">工作。可以说办公室是联系我处与外界的纽带</tspan><tspan x="2046.5" y="3113.4">，是反映我处精神面貌的"窗口"。强化自身建</tspan><tspan x="2046.5" y="3130.6">设促进我处工作正常有序运转是办公室的职责</tspan><tspan x="2046.5" y="3147.8">所在，也是提高工作效率完成各项任务的前提</tspan><tspan x="2046.5" y="3165">，作为办公室的工作人员我认为必须要强化服</tspan><tspan x="2046.5" y="3182.2">务意识，实现思想新的突破。</tspan></text></g>
<g id="p5-x"><text class="t"><tspan x="2046.5" y="3242.5">在新的一年里，在新的环境下我将继续发扬戒</tspan><tspan x="2046.5" y="3259.7">骄戒躁发扬团结务实开拓进取的精神，为我所</tspan><tspan x="2046.5" y="3276.9">热爱的这个集体做出自己应有的贡献!</tspan></text></g>
</svg>
